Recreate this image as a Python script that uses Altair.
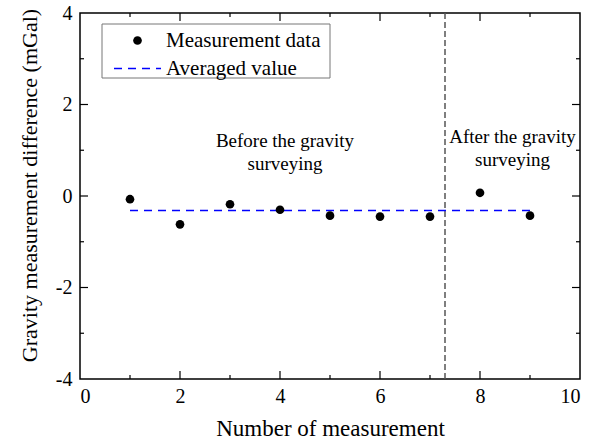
import altair as alt
import pandas as pd

# Repeated gravity-difference measurements
measurement_no = [1, 2, 3, 4, 5, 6, 7, 8, 9]
gravity_diff = [-0.07, -0.62, -0.18, -0.30, -0.43, -0.45, -0.45, 0.07, -0.43]
avg_value = sum(gravity_diff) / len(gravity_diff)

# Separation between the two measurement campaigns
survey_split = 7.3

# Annotation text lines (data coordinates)
note_x = [4.1, 4.1, 8.65, 8.65]
note_y = [1.20, 0.70, 1.29, 0.79]
note_text = ["Before the gravity", "surveying", "After the gravity", "surveying"]

# Axis ticks
x_major = [2, 4, 6, 8]
x_minor = [1, 3, 5, 7, 9]
y_major = [-2, 0, 2]
y_minor = [-3, -1, 1, 3]
x_labels = [0, 2, 4, 6, 8, 10]
y_labels = [-4, -2, 0, 2, 4]

W, H = 500, 366
FONT = "Liberation Serif"

xs = alt.Scale(domain=[0, 10], nice=False, zero=False)
ys = alt.Scale(domain=[-4, 4], nice=False, zero=False)

pts_df = pd.DataFrame({"n": measurement_no, "d": gravity_diff,
                       "series": ["Measurement data"] * len(measurement_no)})
avg_df = pd.DataFrame({"x": [measurement_no[0]], "x2": [measurement_no[-1]],
                       "y": [avg_value], "series": ["Averaged value"]})
split_df = pd.DataFrame({"x": [survey_split]})
note_df = pd.DataFrame({"x": note_x, "y": note_y, "t": note_text})

legend_box = alt.Chart(pd.DataFrame({"k": [0]})).mark_rect(
    fill="white", stroke="#777", strokeWidth=1
).encode(x=alt.value(22), x2=alt.value(250), y=alt.value(11), y2=alt.value(65))

points = alt.Chart(pts_df).mark_point(filled=True, size=75, opacity=1).encode(
    x=alt.X("n:Q", scale=xs,
            axis=alt.Axis(values=x_labels, title="Number of measurement",
                          labelExpr="toString(datum.value)",
                          labelFont=FONT, titleFont=FONT, titleFontSize=23,
                          labelPadding=7, titlePadding=11)),
    y=alt.Y("d:Q", scale=ys,
            axis=alt.Axis(values=y_labels, title="Gravity measurement difference (mGal)",
                          labelExpr="toString(datum.value)",
                          labelFont=FONT, titleFont=FONT, titleFontSize=22,
                          titleY=H / 2 - 11,
                          labelPadding=8, titlePadding=14)),
    color=alt.Color("series:N",
                    scale=alt.Scale(domain=["Measurement data"], range=["black"]),
                    legend=alt.Legend(orient="none", legendX=47, legendY=17, title=None,
                                      symbolType="circle", symbolSize=75,
                                      labelFont=FONT, labelFontSize=21,
                                      labelOffset=18, padding=0)),
)

avg_line = alt.Chart(avg_df).mark_rule(strokeWidth=1.5, color="blue").encode(
    x="x:Q", x2="x2:Q", y="y:Q",
    strokeDash=alt.StrokeDash("series:N",
                              scale=alt.Scale(domain=["Averaged value"], range=[[8, 6]]),
                              legend=alt.Legend(orient="none", legendX=33, legendY=31,
                                                title=None, symbolType="stroke",
                                                symbolSize=2209, symbolStrokeColor="blue",
                                                symbolStrokeWidth=1.5,
                                                labelFont=FONT, labelFontSize=21,
                                                labelOffset=4, padding=0)),
)

split_line = alt.Chart(split_df).mark_rule(
    color="#555", strokeDash=[6, 3], strokeWidth=1.5
).encode(x="x:Q")

notes = alt.Chart(note_df).mark_text(
    font=FONT, fontSize=19, color="black", align="center", baseline="middle"
).encode(x="x:Q", y="y:Q", text="t:N")


def xticks(vals, length, top):
    y0 = 0 if top else H
    y1 = length if top else H - length
    return alt.Chart(pd.DataFrame({"v": vals})).mark_rule(
        color="black", strokeWidth=1.2
    ).encode(x="v:Q", y=alt.value(y0), y2=alt.value(y1))


def yticks(vals, length, right):
    x0 = W if right else 0
    x1 = W - length if right else length
    return alt.Chart(pd.DataFrame({"v": vals})).mark_rule(
        color="black", strokeWidth=1.2
    ).encode(y="v:Q", x=alt.value(x0), x2=alt.value(x1))


ticks = [
    xticks(x_major, 8, False), xticks(x_minor, 4, False),
    xticks(x_major, 8, True), xticks(x_minor, 4, True),
    yticks(y_major, 8, False), yticks(y_minor, 4, False),
    yticks(y_major, 8, True), yticks(y_minor, 4, True),
]

chart = alt.layer(
    split_line, avg_line, points, notes, *ticks, legend_box
).resolve_scale(color="independent").properties(
    width=W, height=H,
    autosize=alt.AutoSizeParams(type="none"),
    padding={"left": 80, "top": 13, "right": 12, "bottom": 62},
).configure(
    font=FONT
).configure_view(
    stroke="black", strokeWidth=1.5
).configure_axis(
    labelFont=FONT, labelFontSize=20, labelColor="black",
    titleFont=FONT, titleFontWeight="normal", titleColor="black",
    tickSize=0, domain=False, grid=False
).configure_legend(
    labelFont=FONT, labelFontSize=21, labelColor="black"
)

chart.save("out.html", embed_options={"renderer": "svg", "actions": False})
